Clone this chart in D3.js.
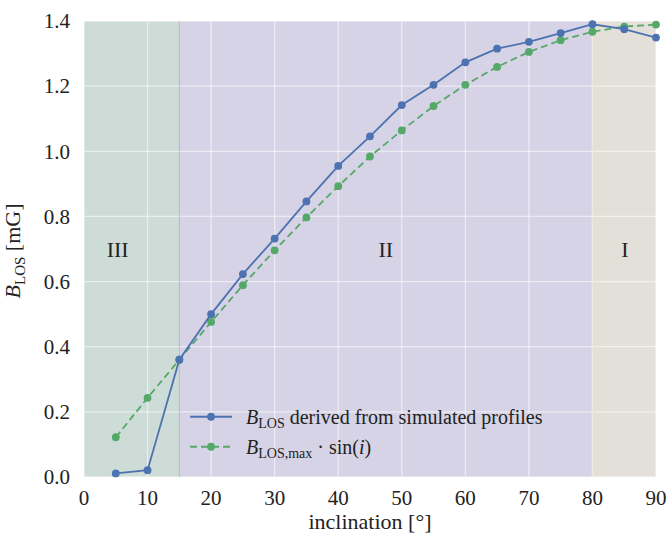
<!DOCTYPE html>
<html>
<head>
<meta charset="utf-8">
<script src="https://cdn.jsdelivr.net/npm/d3@7"></script>
<style>
  body { margin: 0; background: #fff; }
  svg text { fill: #222; }
</style>
</head>
<body>
<div id="chart"></div>
<script>
// inclination grid and both series
var inclination = [5, 10, 15, 20, 25, 30, 35, 40, 45, 50, 55, 60, 65, 70, 75, 80, 85, 90];
var bDerived = [0.011, 0.021, 0.360, 0.500, 0.623, 0.732, 0.846, 0.955, 1.046, 1.142, 1.204, 1.273, 1.315, 1.336, 1.363, 1.390, 1.375, 1.349];
var bSin = [0.122, 0.243, 0.360, 0.476, 0.589, 0.696, 0.797, 0.893, 0.984, 1.064, 1.139, 1.204, 1.259, 1.305, 1.341, 1.367, 1.383, 1.389];
var regions = [
    {name: "III", from: 0, to: 15, labelAt: 5.3, color: "#cddcd6"},
    {name: "II", from: 15, to: 80, labelAt: 47.5, color: "#d5d3e5"},
    {name: "I", from: 80, to: 90, labelAt: 85.1, color: "#e3e0d9"}
];
var xTicks = [0, 10, 20, 30, 40, 50, 60, 70, 80, 90];
var yTicks = [0.0, 0.2, 0.4, 0.6, 0.8, 1.0, 1.2, 1.4];

var SERIF = "Liberation Serif";

var W = 670, H = 537;
var margin = {top: 21, right: 14, bottom: 60, left: 84};
var width = W - margin.left - margin.right,
    height = H - margin.top - margin.bottom;

var svg = d3.select("#chart").append("svg")
    .attr("width", W).attr("height", H)
    .style("font-family", SERIF);
var g = svg.append("g")
    .attr("transform", "translate(" + margin.left + "," + margin.top + ")");

var x = d3.scaleLinear().domain([0, 90]).range([0, width]);
var y = d3.scaleLinear().domain([0, 1.4]).range([height, 0]);

// Hintergrund-Bereiche
g.selectAll("rect.region")
    .data(regions)
    .enter().append("rect")
    .attr("class", "region")
    .attr("x", d => x(d.from))
    .attr("y", 0)
    .attr("width", d => x(d.to) - x(d.from))
    .attr("height", height)
    .style("fill", d => d.color);

// Gitter
g.selectAll("line.xgrid")
    .data(xTicks)
    .enter().append("line")
    .attr("x1", d => x(d)).attr("x2", d => x(d))
    .attr("y1", 0).attr("y2", height)
    .style("stroke", "#fff").style("stroke-opacity", 0.55).style("stroke-width", 1.3);
g.selectAll("line.ygrid")
    .data(yTicks)
    .enter().append("line")
    .attr("x1", 0).attr("x2", width)
    .attr("y1", d => y(d)).attr("y2", d => y(d))
    .style("stroke", "#fff").style("stroke-opacity", 0.55).style("stroke-width", 1.3);

// Bereichsgrenzen
g.append("line")
    .attr("x1", x(15)).attr("x2", x(15)).attr("y1", 0).attr("y2", height)
    .style("stroke", "#b9b8c8").style("stroke-width", 1);
g.append("line")
    .attr("x1", x(80)).attr("x2", x(80)).attr("y1", 0).attr("y2", height)
    .style("stroke", "#efeadb").style("stroke-width", 1.2);

// Bereichsnamen
g.selectAll("text.region")
    .data(regions)
    .enter().append("text")
    .attr("x", d => x(d.labelAt))
    .attr("y", y(0.7))
    .attr("dy", "0.35em")
    .style("font-family", SERIF)
    .style("text-anchor", "middle")
    .style("font-size", "22px")
    .text(d => d.name);

// Linien
var line = d3.line()
    .x((d, i) => x(inclination[i]))
    .y(d => y(d));

function drawSeries(values, color, dash) {
    g.append("path")
        .datum(values)
        .attr("d", line)
        .style("fill", "none")
        .style("stroke", color)
        .style("stroke-width", 1.8)
        .style("stroke-dasharray", dash);
    g.append("g").selectAll("circle")
        .data(values)
        .enter().append("circle")
        .attr("cx", (d, i) => x(inclination[i]))
        .attr("cy", d => y(d))
        .attr("r", 3.9)
        .style("fill", color);
}
drawSeries(bSin, "#55a868", "7,4");
drawSeries(bDerived, "#4c72b0", null);

// Achsenbeschriftungen
g.selectAll("text.xtick")
    .data(xTicks)
    .enter().append("text")
    .attr("x", d => x(d))
    .attr("y", height + 28)
    .style("font-family", SERIF)
    .style("text-anchor", "middle")
    .style("font-size", "21px")
    .text(d => d);
g.selectAll("text.ytick")
    .data(yTicks)
    .enter().append("text")
    .attr("x", -14)
    .attr("y", d => y(d))
    .attr("dy", "0.35em")
    .style("font-family", SERIF)
    .style("text-anchor", "end")
    .style("font-size", "21px")
    .text(d => d.toFixed(1));

g.append("text")
    .attr("x", width / 2)
    .attr("y", height + 52)
    .style("font-family", SERIF)
    .style("text-anchor", "middle")
    .style("font-size", "22px")
    .text("inclination [°]");

var yl = g.append("text")
    .attr("transform", "translate(-64," + (height / 2 + 2) + ") rotate(-90)")
    .style("font-family", SERIF)
    .style("text-anchor", "middle")
    .style("font-size", "22px");
yl.append("tspan").style("font-style", "italic").text("B");
yl.append("tspan").attr("dy", 5).style("font-size", "15px").text("LOS");
yl.append("tspan").attr("dy", -5).text(" [mG]");

// Legende
var legend = g.append("g").attr("transform", "translate(" + (x(17) - 2) + "," + y(0.185) + ")");
var items = [
    {color: "#4c72b0", dash: null},
    {color: "#55a868", dash: "7,4"}
];
items.forEach(function(it, i) {
    var row = legend.append("g").attr("transform", "translate(0," + (i * 30) + ")");
    row.append("line")
        .attr("x1", 0).attr("x2", 42).attr("y1", 0).attr("y2", 0)
        .style("stroke", it.color).style("stroke-width", 1.8)
        .style("stroke-dasharray", it.dash);
    row.append("circle").attr("cx", 21).attr("cy", 0).attr("r", 3.9).style("fill", it.color);
});
var t1 = legend.append("text").attr("x", 56).attr("y", 0).attr("dy", "0.35em")
    .style("font-family", SERIF).style("font-size", "20px");
t1.append("tspan").style("font-style", "italic").text("B");
t1.append("tspan").attr("dy", 4).style("font-size", "14px").text("LOS");
t1.append("tspan").attr("dy", -4).text(" derived from simulated profiles");
var t2 = legend.append("text").attr("x", 56).attr("y", 30).attr("dy", "0.35em")
    .style("font-family", SERIF).style("font-size", "20px");
t2.append("tspan").style("font-style", "italic").text("B");
t2.append("tspan").attr("dy", 4).style("font-size", "14px").text("LOS,max");
t2.append("tspan").attr("dy", -4).text(" · sin(");
t2.append("tspan").style("font-style", "italic").text("i");
t2.append("tspan").text(")");
</script>
</body>
</html>
